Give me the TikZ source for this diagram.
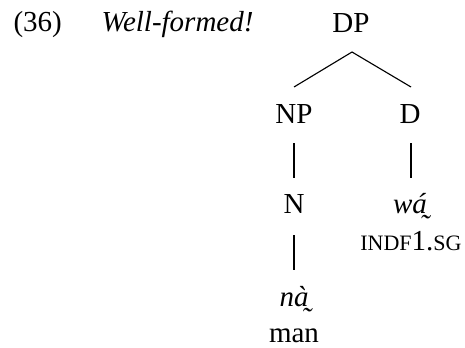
\documentclass[tikz,border=0pt]{standalone}
\usepackage{fontspec}
\setmainfont{LiberationSerif}[Extension=.ttf,
  UprightFont=*-Regular, ItalicFont=*-Italic,
  BoldFont=*-Bold, BoldItalicFont=*-BoldItalic]
\begin{document}
\begin{tikzpicture}[x=0.4pt,y=-0.4pt,
  lab/.style={inner sep=0pt,anchor=base,font=\fontsize{11.6}{14}\selectfont},
  edge/.style={line width=0.45pt}]
\useasboundingbox (0,0) rectangle (465,347);
% example number and comment
\node[lab,anchor=base west] (num) at (13,31) {(36)};
\node[lab,anchor=base west] (cmt) at (101,31) {\itshape Well-formed!};
% tree nodes
\node[lab] (dp) at (351,32) {DP};
\node[lab] (np) at (294,123) {NP};
\node[lab] (d) at (410,123) {D};
\node[lab] (n) at (294,213) {N};
\node[lab] (wa) at (410,213) {\itshape wá̰};
\node[lab] (gl1) at (411,250) {{\fontsize{8.8}{10}\selectfont INDF}1.{\fontsize{8.8}{10}\selectfont SG}};
\node[lab] (na) at (294,306) {\itshape nà̰};
\node[lab] (man) at (294,342) {man};
% branches
\coordinate (dpb) at (352,52);
\coordinate (npt) at (294,87);
\coordinate (dt) at (411,87);
\draw[edge] (npt) -- (dpb) -- (dt);
\coordinate (npb) at (294,143);
\coordinate (nt) at (294,178);
\draw[edge] (npb) -- (nt);
\coordinate (db) at (411,143);
\coordinate (wt) at (411,178);
\draw[edge] (db) -- (wt);
\coordinate (nb) at (294,235);
\coordinate (nat) at (294,270);
\draw[edge] (nb) -- (nat);
\end{tikzpicture}
\end{document}
